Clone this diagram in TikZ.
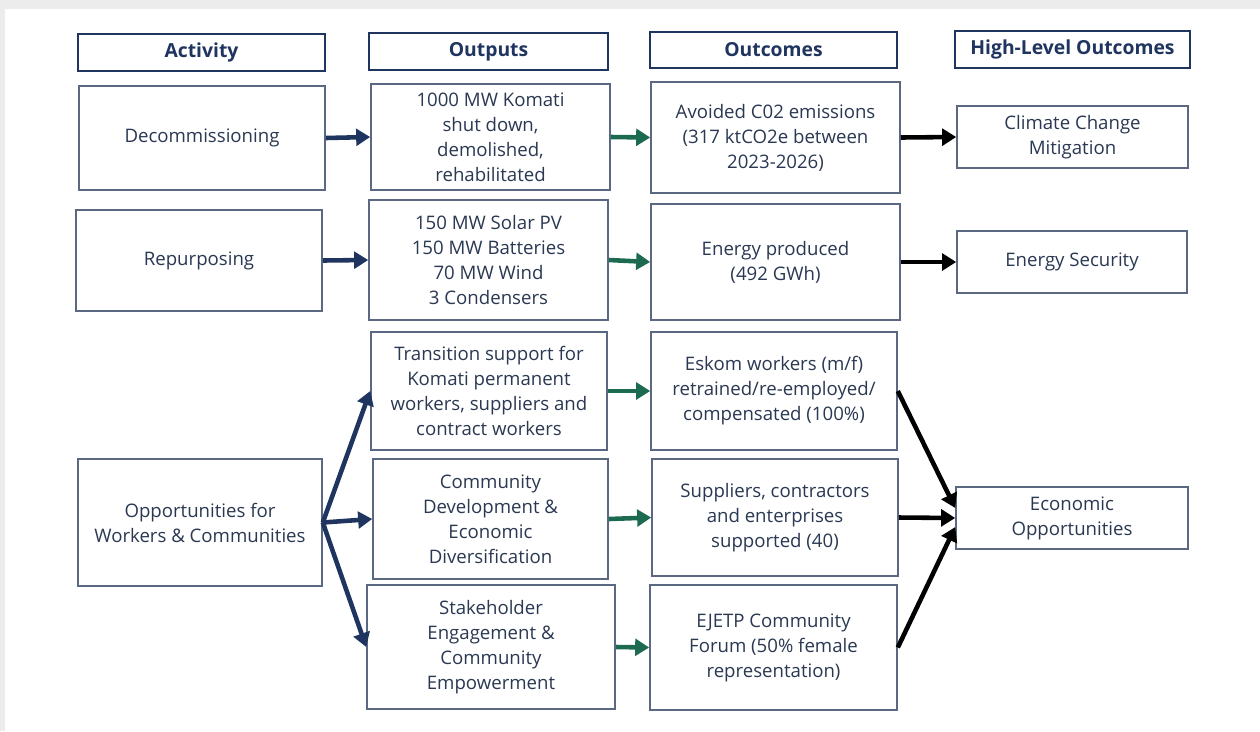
\documentclass[tikz,border=0pt]{standalone}
\usepackage{fontspec}
\setmainfont{Open Sans}
\usetikzlibrary{arrows.meta}
\definecolor{navy}{HTML}{1F3560}
\definecolor{boxline}{HTML}{5A6882}
\definecolor{txt}{HTML}{2A3852}
\definecolor{arrgreen}{HTML}{1C6B50}
\begin{document}
\begin{tikzpicture}[x=0.02cm,y=-0.02cm,
  wh/.style 2 args={minimum width=#1*0.02cm,minimum height=#2*0.02cm},
  box/.style={draw=boxline,line width=0.9pt,inner sep=0pt,align=center,text=txt,
    font=\fontsize{10.6}{14.2}\selectfont},
  head/.style={box,draw=navy,line width=1.5pt,text=navy,
    font=\bfseries\fontsize{11}{13}\selectfont},
  arr/.style={line width=2.6pt,-{Triangle[length=8pt,width=9.5pt]}},
  navyarr/.style={arr,draw=navy},
  greenarr/.style={arr,draw=arrgreen},
  blackarr/.style={arr,draw=black}]
\useasboundingbox (0,0) rectangle (1260,731);
\fill [gray!15] (0,0) rectangle (1260,731);
\fill [white] (5,9) rectangle (1260,731);
\node [head,wh={247}{37}] (hact) at (201.5,52.5) {Activity};
\node [head,wh={239}{37}] (hout) at (488.5,51.5) {Outputs};
\node [head,wh={247}{36}] (hoc) at (773.5,50) {Outcomes};
\node [head,wh={235}{37}] (hhl) at (1072.5,49.5) {High-Level Outcomes};
\node [box,wh={246}{104}] (dec) at (202,138) {Decommissioning};
\node [box,wh={246}{101}] (rep) at (199,260.5) {Repurposing};
\node [box,wh={244}{127}] (opp) at (200,522.5) {Opportunities for\\Workers \& Communities};
\node [box,wh={239}{106}] (komati) at (490.5,137) {1000 MW Komati\\shut down,\\demolished,\\rehabilitated};
\node [box,wh={239}{120}] (solar) at (488.5,260) {150 MW Solar PV\\150 MW Batteries\\70 MW Wind\\3 Condensers};
\node [box,wh={236}{118}] (trans) at (489,391) {Transition support for\\Komati permanent\\workers, suppliers and\\contract workers};
\node [box,wh={235}{120}] (comdev) at (490.5,519) {Community\\Development \&\\Economic\\Diversification};
\node [box,wh={248}{124}] (stake) at (491,647) {Stakeholder\\Engagement \&\\Community\\Empowerment};
\node [box,wh={249}{111}] (avoid) at (775.5,137.5) {Avoided C02 emissions\\(317 ktCO2e between\\2023-2026)};
\node [box,wh={249}{116}] (energy) at (775.5,262) {Energy produced\\(492 GWh)};
\node [box,wh={246}{118}] (eskom) at (774,391) {Eskom workers (m/f)\\retrained/re-employed/\\compensated (100\%)};
\node [box,wh={246}{117}] (suppl) at (775,517.5) {Suppliers, contractors\\and enterprises\\supported (40)};
\node [box,wh={247}{125}] (ejetp) at (773.5,647.5) {EJETP Community\\Forum (50\% female\\representation)};
\node [box,wh={231}{62}] (climate) at (1072.5,137) {Climate Change\\Mitigation};
\node [box,wh={230}{62}] (secur) at (1072,262) {Energy Security};
\node [box,wh={232}{62}] (econ) at (1072,518) {Economic\\Opportunities};
\draw [navyarr] (dec.east) -- (komati.west);
\draw [navyarr] (rep.east) -- (solar.west);
\draw [navyarr] (opp.east) -- (trans.west);
\draw [navyarr] (opp.east) -- (comdev.west);
\draw [navyarr] (opp.east) -- (stake.west);
\draw [greenarr] (komati.east) -- (avoid.west);
\draw [greenarr] (solar.east) -- (energy.west);
\draw [greenarr] (trans.east) -- (eskom.west);
\draw [greenarr] (comdev.east) -- (suppl.west);
\draw [greenarr] (stake.east) -- (ejetp.west);
\draw [blackarr] (avoid.east) -- (climate.west);
\draw [blackarr] (energy.east) -- (secur.west);
\draw [blackarr] (eskom.east) -- ([yshift=0.2cm]econ.west);
\draw [blackarr] (suppl.east) -- (econ.west);
\draw [blackarr] (ejetp.east) -- ([yshift=-0.18cm]econ.west);
\end{tikzpicture}
\end{document}
